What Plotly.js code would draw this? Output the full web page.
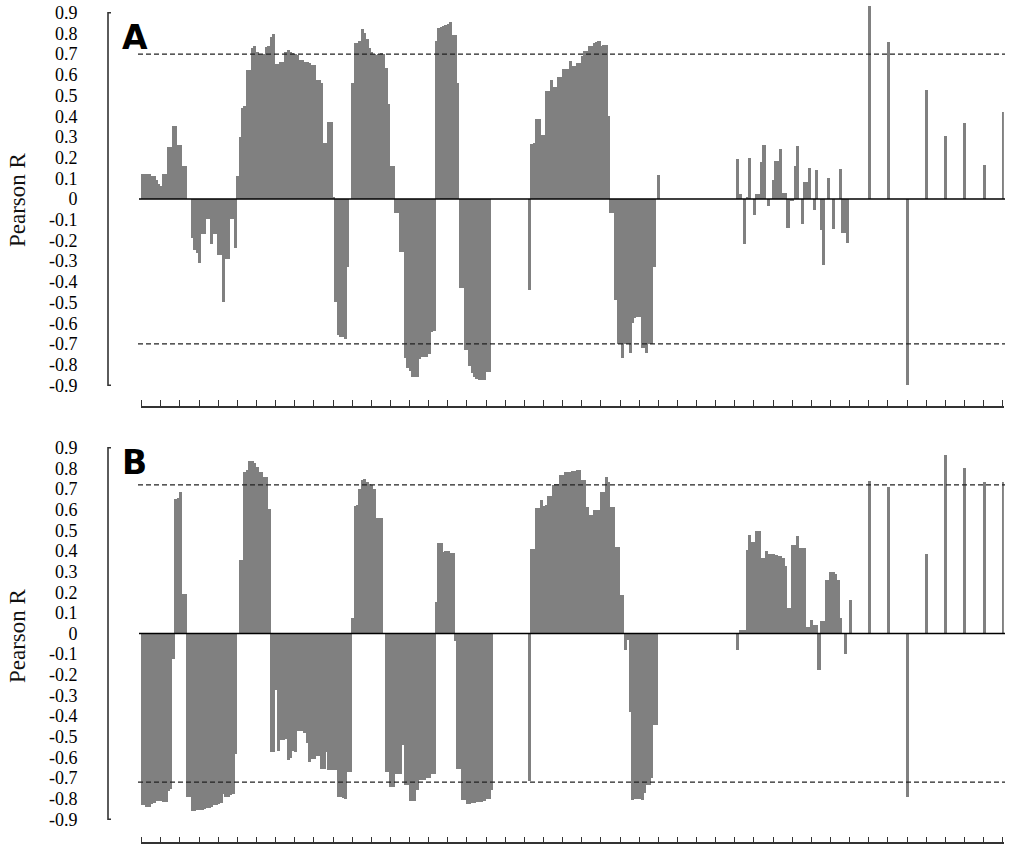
<!DOCTYPE html>
<html>
<head>
<meta charset="utf-8">
<script src="https://cdn.plot.ly/plotly-3.0.1.min.js"></script>
<style>
  html, body { margin: 0; padding: 0; background: #fff; }
  #chart { width: 1024px; height: 857px; }
</style>
</head>
<body>
<div id="chart"></div>
<script>
// Pearson R at each position (361 positions)
const pearsonA = [
  0.12, 0.12, 0.12, 0.12, 0.11, 0.11, 0.09, 0.07, 0.06, 0.12,
  0.12, 0.25, 0.25, 0.35, 0.35, 0.26, 0.26, 0.16, 0.16, 0,
  0, -0.19, -0.25, -0.26, -0.31, -0.17, -0.17, -0.10, -0.10, -0.22,
  -0.17, -0.17, -0.27, -0.27, -0.50, -0.29, -0.29, -0.10, -0.10, -0.24,
  0.11, 0.30, 0.44, 0.45, 0.62, 0.62, 0.73, 0.74, 0.71, 0.70,
  0.70, 0.70, 0.735, 0.74, 0.78, 0.795, 0.65, 0.65, 0.66, 0.66,
  0.71, 0.72, 0.71, 0.705, 0.70, 0.695, 0.67, 0.67, 0.66, 0.66,
  0.655, 0.647, 0.647, 0.575, 0.575, 0.56, 0.27, 0.27, 0.37, 0.37,
  0.01, -0.50, -0.66, -0.666, -0.67, -0.68, -0.33, 0, 0.56, 0.75,
  0.75, 0.76, 0.82, 0.80, 0.77, 0.73, 0.71, 0.70, 0.695, 0.70,
  0.705, 0.70, 0.63, 0.46, 0.16, 0.156, -0.07, -0.07, -0.255, -0.255,
  -0.77, -0.82, -0.83, -0.86, -0.86, -0.86, -0.776, -0.766, -0.766, -0.763,
  -0.75, -0.642, -0.64, 0.76, 0.826, 0.83, 0.834, 0.84, 0.842, 0.853,
  0.79, 0.79, 0.56, -0.43, -0.43, -0.73, -0.73, -0.81, -0.844, -0.86,
  -0.87, -0.876, -0.876, -0.876, -0.835, -0.835, 0, 0, 0, 0,
  0, 0, 0, 0, 0, 0, 0, 0, 0, 0,
  0, 0, -0.44, 0.266, 0.27, 0.386, 0.386, 0.31, 0.31, 0.52,
  0.52, 0.572, 0.54, 0.54, 0.587, 0.587, 0.627, 0.627, 0.627, 0.664,
  0.643, 0.643, 0.656, 0.656, 0.688, 0.713, 0.713, 0.737, 0.737, 0.75,
  0.757, 0.76, 0.74, 0.745, 0.745, 0.40, -0.07, -0.07, -0.49, -0.70,
  -0.70, -0.77, -0.70, -0.70, -0.747, -0.60, -0.577, -0.57, -0.57, -0.72,
  -0.72, -0.747, -0.70, -0.70, -0.33, 0, 0.116, 0, 0, 0,
  0, 0, 0, 0, 0, 0, 0, 0, 0, 0,
  0, 0, 0, 0, 0, 0, 0, 0, 0, 0,
  0, 0, 0, 0, 0, 0, 0, 0, 0, 0.19,
  0.024, 0, -0.218, 0.01, 0.197, 0, -0.077, 0.024, 0.024, 0.177,
  0.26, 0, -0.034, 0, 0.09, 0.184, 0.184, 0.24, 0.03, 0.03,
  -0.142, -0.01, -0.01, 0.156, 0.253, 0, -0.123, 0.08, 0.08, 0.15,
  0, -0.053, 0.139, 0, -0.153, -0.32, 0, 0.10, 0, -0.147,
  0, 0, 0.143, -0.166, -0.166, -0.215, 0, 0, 0, 0,
  0, 0, 0, 0, 0.93, 0, 0, 0, 0, 0,
  0, 0, 0.756, 0, 0, 0, 0, 0, 0, 0,
  -0.90, 0, 0, 0, 0, 0, 0, 0, 0.527, 0,
  0, 0, 0, 0, 0, 0, 0.305, 0, 0, 0,
  0, 0, 0, 0, 0.366, 0, 0, 0, 0, 0,
  0, 0, 0.165, 0, 0, 0, 0, 0, 0, 0,
  0.418
];

const pearsonB = [
  -0.83, -0.83, -0.84, -0.84, -0.823, -0.82, -0.81, -0.81, -0.81, -0.815,
  -0.815, -0.76, -0.75, -0.12, 0.655, 0.66, 0.687, 0.195, 0.195, -0.79,
  -0.79, -0.858, -0.858, -0.855, -0.855, -0.855, -0.85, -0.842, -0.842, -0.84,
  -0.83, -0.83, -0.825, -0.82, -0.774, -0.79, -0.79, -0.78, -0.775, -0.58,
  0, 0.356, 0.356, 0.784, 0.795, 0.837, 0.837, 0.828, 0.81, 0.784,
  0.784, 0.76, 0.76, 0.603, -0.573, -0.573, -0.274, -0.565, -0.516, -0.516,
  -0.51, -0.613, -0.60, -0.565, -0.573, -0.47, -0.471, -0.471, -0.48, -0.529,
  -0.62, -0.605, -0.605, -0.59, -0.59, -0.654, -0.654, -0.573, -0.661, -0.661,
  -0.66, -0.66, -0.79, -0.79, -0.795, -0.80, -0.67, -0.67, 0.078, 0.62,
  0.623, 0.703, 0.744, 0.75, 0.736, 0.728, 0.72, 0.70, 0.563, 0.563,
  0.56, 0, -0.67, -0.67, -0.74, -0.74, -0.677, -0.677, -0.677, -0.54,
  -0.734, -0.734, -0.81, -0.81, -0.81, -0.758, -0.71, -0.71, -0.71, -0.70,
  -0.70, -0.677, -0.677, 0.154, 0.44, 0.44, 0.397, 0.40, 0.40, 0.39,
  0.39, -0.035, -0.654, -0.654, -0.807, -0.807, -0.823, -0.823, -0.82, -0.82,
  -0.815, -0.815, -0.815, -0.81, -0.80, -0.80, -0.758, 0, 0, 0,
  0, 0, 0, 0, 0, 0, 0, 0, 0, 0,
  0, 0, -0.713, 0.413, 0.413, 0.611, 0.611, 0.647, 0.62, 0.625,
  0.67, 0.67, 0.72, 0.728, 0.728, 0.768, 0.768, 0.784, 0.784, 0.786,
  0.789, 0.789, 0.792, 0.792, 0.744, 0.744, 0.614, 0.574, 0.574, 0.598,
  0.598, 0.60, 0.687, 0.687, 0.76, 0.736, 0.614, 0.614, 0.42, 0.42,
  0.19, 0.19, -0.077, -0.03, -0.379, -0.807, -0.80, -0.80, -0.80, -0.807,
  -0.77, -0.734, -0.734, -0.70, -0.443, -0.443, 0, 0, 0, 0,
  0, 0, 0, 0, 0, 0, 0, 0, 0, 0,
  0, 0, 0, 0, 0, 0, 0, 0, 0, 0,
  0, 0, 0, 0, 0, 0, 0, 0, 0, -0.077,
  0.017, 0.017, 0.017, 0.408, 0.48, 0.445, 0.445, 0.50, 0.50, 0.367,
  0.367, 0.40, 0.388, 0.388, 0.388, 0.38, 0.377, 0.375, 0.37, 0.33,
  0.125, 0.125, 0.433, 0.433, 0.472, 0.417, 0.417, 0.417, 0.033, 0.033,
  0.069, 0.041, 0.041, -0.176, 0.062, 0.062, 0.262, 0.262, 0.30, 0.30,
  0.29, 0.262, 0.077, 0, -0.096, 0, 0.165, 0, 0, 0,
  0, 0, 0, 0, 0.74, 0, 0, 0, 0, 0,
  0, 0, 0.711, 0, 0, 0, 0, 0, 0, 0,
  -0.79, 0, 0, 0, 0, 0, 0, 0, 0.388, 0,
  0, 0, 0, 0, 0, 0, 0.865, 0, 0, 0,
  0, 0, 0, 0, 0.803, 0, 0, 0, 0, 0,
  0, 0, 0.735, 0, 0, 0, 0, 0, 0, 0,
  0.735
];

const cutoffA = [-0.7, 0.7];
const cutoffB = [-0.72, 0.72];
const yTicks = [0.9, 0.8, 0.7, 0.6, 0.5, 0.4, 0.3, 0.2, 0.1, 0,
  -0.1, -0.2, -0.3, -0.4, -0.5, -0.6, -0.7, -0.8, -0.9];
const panelLabels = ['A', 'B'];
const axisTitle = 'Pearson R';

const W = 1024, H = 857;
const px = v => v / W;       // pixel -> paper x
const py = v => 1 - v / H;   // pixel -> paper y

const positions = pearsonA.map((_, i) => i);
const tickText = yTicks.map(v => v === 0 ? '0' : v.toFixed(1)); // plain hyphen, like the figure

// where each panel sits on the page (pixels)
const panels = [
  { zero: 199, scale: 207, lim: 0.96, axisY: 406.7, values: pearsonA, cut: cutoffA, xa: 'x', ya: 'y' },
  { zero: 633.5, scale: 206.4, lim: 0.92, axisY: 843.3, values: pearsonB, cut: cutoffB, xa: 'x2', ya: 'y2' }
];

const data = [];
const shapes = [];
const annotations = [];
const layout = {
  width: W, height: H,
  margin: { l: 0, r: 0, t: 0, b: 0 },
  paper_bgcolor: '#fff', plot_bgcolor: 'rgba(0,0,0,0)',
  bargap: 0,
  showlegend: false,
  font: { family: 'Liberation Serif, serif', color: '#111' }
};

panels.forEach((p, k) => {
  // a bit wider than one slot so neighbouring bars overlap and merge into blocks
  data.push({
    type: 'bar', x: positions, y: p.values, width: 1.3,
    xaxis: p.xa, yaxis: p.ya,
    marker: { color: '#808080', line: { width: 0 } },
    hoverinfo: 'x+y'
  });

  const xKey = k === 0 ? 'xaxis' : 'xaxis2';
  const yKey = k === 0 ? 'yaxis' : 'yaxis2';

  layout[xKey] = {
    domain: [px(140.5), px(1003.9)],
    range: [-0.5, 360.5],
    anchor: 'free', position: py(p.axisY),
    showline: true, linecolor: '#333', linewidth: 1.6,
    ticks: 'inside', ticklen: 6, tickwidth: 1.4, tickcolor: '#333',
    tick0: 0, dtick: 8,
    showticklabels: false, showgrid: false, zeroline: false, fixedrange: true
  };
  layout[yKey] = {
    domain: [py(p.zero + p.lim * p.scale), py(p.zero - p.lim * p.scale)],
    range: [-p.lim, p.lim],
    anchor: 'free', position: px(108),
    tickmode: 'array', tickvals: yTicks, ticktext: tickText,
    ticks: 'outside', ticklen: 27, tickcolor: 'rgba(0,0,0,0)',
    tickfont: { family: 'Liberation Serif, serif', size: 18, color: '#000' },
    showline: false, showgrid: false, zeroline: false, fixedrange: true
  };

  const yref = p.ya;
  // detached y axis line with small end hooks
  shapes.push({
    type: 'path', xref: 'paper', yref: yref, layer: 'above',
    path: `M ${px(111)},-0.9 L ${px(108)},-0.9 L ${px(108)},0.9 L ${px(111)},0.9`,
    line: { color: '#333', width: 1.6 }
  });
  // zero line over the bars
  shapes.push({
    type: 'line', xref: 'paper', yref: yref, layer: 'above',
    x0: px(139), x1: px(1005), y0: 0, y1: 0,
    line: { color: '#000', width: 1.6 }
  });
  // significance cut-offs
  p.cut.forEach(c => {
    shapes.push({
      type: 'line', xref: 'paper', yref: yref, layer: 'above',
      x0: px(138), x1: px(1005), y0: c, y1: c,
      line: { color: '#222', width: 1.4, dash: '5px,3px' }
    });
  });

  annotations.push({
    text: '<b>' + panelLabels[k] + '</b>',
    xref: 'paper', yref: 'paper',
    x: px(120), y: py(k === 0 ? 16 : 441),
    xanchor: 'left', yanchor: 'top', showarrow: false,
    font: { family: 'DejaVu Sans, sans-serif', size: 33, color: '#000' }
  });
  annotations.push({
    text: axisTitle,
    xref: 'paper', yref: 'paper',
    x: px(17), y: py(k === 0 ? 200 : 636),
    xanchor: 'center', yanchor: 'middle', showarrow: false, textangle: -90,
    font: { family: 'Liberation Serif, serif', size: 23, color: '#111' }
  });
});

layout.shapes = shapes;
layout.annotations = annotations;

Plotly.newPlot('chart', data, layout, { displayModeBar: false });
</script>
</body>
</html>
